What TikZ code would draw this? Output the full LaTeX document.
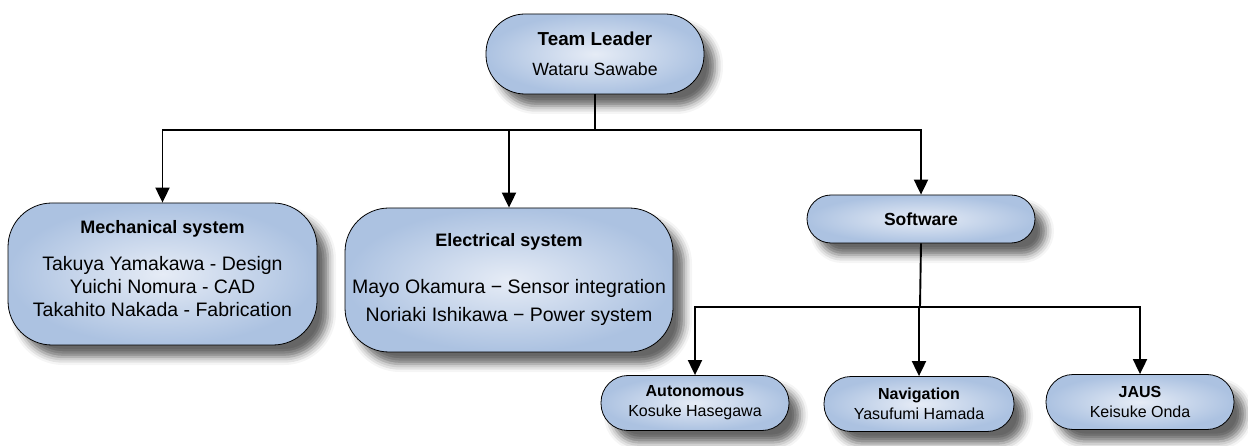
\documentclass[tikz,border=0pt]{standalone}
\usepackage{fontspec}
\setmainfont{Liberation Sans}
\usepackage{tikz}
\usetikzlibrary{arrows.meta,shadows.blur}
\definecolor{boxout}{RGB}{172,194,225}
\definecolor{boxin}{RGB}{230,236,246}
\def\hd#1#2{{\bfseries\fontsize{#1}{10}\selectfont #2}}

\begin{document}
\begin{tikzpicture}[x=1pt, y=-1pt, >={Triangle[width=14pt,length=15pt]},
    unit/.style={draw=black, line width=0.8pt, shading=radial,
      inner color=boxin, outer color=boxout, align=center, inner sep=0pt,
      blur shadow={shadow xshift=11pt, shadow yshift=-12pt,
        shadow blur radius=8pt, shadow opacity=60}},
    link/.style={line width=1.9pt}
  ]
    \useasboundingbox (0,0) rectangle (1248,446);

    \node[unit, minimum width=218pt, minimum height=80pt, rounded corners=39pt,
      font={\fontsize{17.7}{30}\selectfont}] (lead) at (595,54)
      {\hd{18.8}{Team Leader}\\Wataru Sawabe};

    \node[unit, minimum width=309pt, minimum height=142pt, rounded corners=44pt,
      font={\fontsize{19.5}{23}\selectfont}] (mech) at (162.5,274)
      {\hd{18}{Mechanical system}\\[14pt]Takuya Yamakawa - Design\\
       Yuichi Nomura - CAD\\Takahito Nakada - Fabrication\\[-11pt]};
    \node[unit, minimum width=328pt, minimum height=144pt, rounded corners=44pt,
      font={\fontsize{19.5}{28}\selectfont}] (elec) at (509,280)
      {\hd{18}{Electrical system}\\[19pt]Mayo Okamura − Sensor integration\\
       Noriaki Ishikawa − Power system};
    \node[unit, minimum width=228pt, minimum height=48pt, rounded corners=24pt]
      (soft) at (921,219) {\hd{17.5}{Software}};

    % software groups
    \node[unit, minimum width=188pt, minimum height=55pt, rounded corners=27pt,
      font={\fontsize{16}{20}\selectfont}] (auto) at (695,403)
      {\hd{16}{Autonomous}\\Kosuke Hasegawa};
    \node[unit, minimum width=190pt, minimum height=55pt, rounded corners=27pt,
      font={\fontsize{16}{20}\selectfont}] (nav) at (919,404)
      {\hd{16}{Navigation}\\Yasufumi Hamada};
    \node[unit, minimum width=188pt, minimum height=55pt, rounded corners=27pt,
      font={\fontsize{16}{20}\selectfont}] (jaus) at (1140,402)
      {\hd{16}{JAUS}\\Keisuke Onda};

    \coordinate (tbus) at (595,130);
    \coordinate (sbus) at (920,307);

    \draw[link] (lead.south) -- (tbus);
    \draw[link,->] (tbus) -| (mech.north);
    \draw[link,->] (tbus) -| (elec.north);
    \draw[link,->] (tbus) -| (soft.north);

    \draw[link] (soft.south) -- (sbus);
    \draw[link,->] (sbus) -| (auto.north);
    \draw[link,->] (sbus) -| (nav.north);
    \draw[link,->] (sbus) -| (jaus.north);
\end{tikzpicture}
\end{document}
